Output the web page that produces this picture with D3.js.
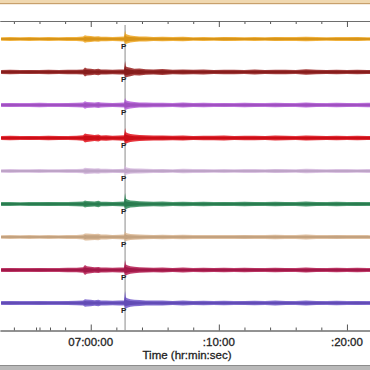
<!DOCTYPE html>
<html>
<head>
<meta charset="utf-8">
<script src="https://cdn.jsdelivr.net/npm/d3@7"></script>
<style>
  html, body { margin: 0; padding: 0; background: #ffffff; overflow: hidden; }
  #plot { width: 370px; height: 370px; }
  #plot svg { display: block; }
  text { font-family: "Liberation Sans", Arial, sans-serif; }
</style>
</head>
<body>
<div id="plot"></div>
<script>
// time window shown (hh:mm:ss), everything else is minutes from 07:00:00
var windowStart = "06:52:55";
var windowEnd = "07:21:48";
var pArrival = 2.68;

var minorTickMinutes = [-6, -4, -2, 2, 4, 6, 8, 12, 14, 16, 18];
var majorTickMinutes = [0, 10, 20];
var majorTickLabels = ["07:00:00", ":10:00", ":20:00"];
var markerTickMinutes = [-4.27, -3.18];
var axisTitle = "Time (hr:min:sec)";

var traceNames = ["tr1", "tr2", "tr3", "tr4", "tr5", "tr6", "tr7", "tr8", "tr9"];
var traceColors = ["#efa51c", "#96201f", "#b25ad6", "#e2101a", "#d3b6dd",
                   "#2e8a58", "#d9b48e", "#b41b50", "#6d55c9"];

// envelope sample times (minutes from 07:00:00)
var envMinutes = [-7.0, -6.3, -5.5, -4.8, -4.0, -3.3, -2.5, -1.8, -1.1, -0.6,
                  -0.45, -0.3, 0.0, 0.3, 0.6, 0.8, 1.2, 1.7, 2.2, 2.6,
                  2.68, 2.75, 2.9, 3.1, 3.4, 3.8, 4.3, 4.9, 5.6, 6.4,
                  7.2, 8.0, 8.8, 9.6, 10.4, 11.2, 12.0, 12.8, 13.6, 14.4,
                  15.2, 16.0, 16.8, 17.6, 18.4, 19.2, 20.0, 20.8, 21.6, 22.4];

// half-width of each trace envelope (amplitude units) at envMinutes
var amp1 = [1.8,2.0,1.7,1.9,1.8,2.0,1.8,1.9,2.0,2.4,3.8,3.2,3.0,2.6,2.8,2.2,2.3,2.0,2.2,2.4,4.5,5.0,4.2,3.6,3.0,2.6,2.4,2.1,2.3,1.9,2.2,1.8,2.0,1.8,2.1,1.9,1.8,2.0,1.8,2.1,2.0,1.9,2.2,1.9,1.8,2.0,1.9,2.1,1.8,1.9];
var amp2 = [2.0,2.2,1.9,2.1,2.0,2.3,2.0,2.2,2.3,2.6,4.5,3.6,3.2,2.8,3.2,2.6,2.5,2.2,2.4,2.6,5.0,5.5,4.8,4.2,3.2,3.6,2.8,2.6,3.0,2.3,2.6,2.2,2.4,2.1,2.3,2.2,2.0,2.4,2.1,2.3,2.2,2.0,2.8,2.2,2.1,2.3,2.0,2.2,2.1,2.0];
var amp3 = [2.0,2.1,1.9,2.0,2.2,2.0,1.9,2.1,2.2,2.5,3.8,3.0,2.8,2.5,3.0,2.4,2.3,2.1,2.3,2.5,4.5,4.8,4.0,3.4,3.0,2.6,2.5,2.2,2.3,2.0,2.6,2.1,2.2,2.0,2.1,2.0,2.2,2.1,2.0,2.3,2.1,2.0,2.6,2.1,2.0,2.2,2.1,2.0,2.2,2.0];
var amp4 = [2.0,2.2,2.0,2.1,2.0,2.2,2.1,2.0,2.3,2.8,4.5,4.0,3.6,3.0,3.5,2.6,2.7,2.3,2.5,2.7,5.5,5.8,4.8,4.0,3.4,3.0,2.7,2.5,2.6,2.2,2.5,2.1,2.3,2.2,2.4,2.1,2.2,2.3,2.1,2.4,2.2,2.0,2.5,2.2,2.1,2.3,2.0,2.2,2.1,2.0];
var amp5 = [1.8,1.9,1.7,1.8,1.9,1.8,1.7,1.9,2.0,2.3,3.2,3.0,2.8,2.6,2.8,2.2,2.2,2.0,2.1,2.3,3.5,3.8,3.2,2.8,2.6,2.4,2.2,2.0,2.1,1.8,2.2,1.9,2.0,1.8,1.9,1.8,2.0,1.9,1.8,2.1,1.9,1.8,2.3,1.9,1.8,2.0,1.9,1.8,2.0,1.8];
var amp6 = [1.9,2.0,1.8,2.0,1.9,2.1,1.9,2.0,2.2,2.5,3.6,3.0,2.7,2.5,3.2,2.3,2.3,2.1,2.3,2.5,4.8,5.2,4.2,3.6,3.2,2.8,2.5,2.3,2.4,2.0,2.3,2.0,2.2,2.0,2.1,2.0,2.2,2.1,2.0,2.2,2.1,2.0,2.4,2.1,2.0,2.2,2.0,2.1,2.0,1.9];
var amp7 = [1.8,1.9,1.8,1.9,1.8,2.0,1.8,1.9,2.0,2.4,3.6,3.4,3.2,3.0,3.2,2.4,2.4,2.1,2.3,2.5,3.8,4.0,3.4,3.0,2.8,2.5,2.3,2.1,2.2,1.9,2.2,1.9,2.0,1.9,2.0,1.9,2.1,2.0,1.9,2.2,2.0,1.9,2.4,2.0,1.9,2.1,1.9,2.0,1.9,1.8];
var amp8 = [2.0,2.1,1.9,2.0,2.1,2.0,1.9,2.2,2.3,2.8,5.0,3.8,3.2,2.8,3.0,2.5,2.4,2.2,2.4,2.6,5.0,5.4,4.6,3.8,3.2,2.8,2.6,2.3,2.5,2.1,2.4,2.0,2.3,2.1,2.2,2.0,2.2,2.1,2.0,2.3,2.1,2.0,2.5,2.1,2.0,2.3,2.0,2.2,2.0,1.9];
var amp9 = [2.0,2.1,1.9,2.0,2.1,2.0,2.0,2.1,2.2,2.6,3.8,3.4,3.2,2.8,3.2,2.5,2.4,2.2,2.4,2.6,5.0,5.5,4.6,3.8,3.2,2.9,2.6,2.4,2.5,2.1,2.4,2.1,2.2,2.0,2.2,2.0,2.1,2.2,2.0,2.4,2.1,2.0,2.5,2.1,2.0,2.2,2.0,2.1,2.0,2.0];
var traceAmps = [amp1, amp2, amp3, amp4, amp5, amp6, amp7, amp8, amp9];

// upward peak of the first P swing on each trace
var pPeaks = [8.5, 11, 7, 10, 6, 11, 6, 10, 12];

function SeismoPlot(target){
    this.WIDTH = 370;
    this.HEIGHT = 370;
    this.TOPAXIS = 21;
    this.BOTTOMAXIS = 330.5;

    this.container = d3.select(target);
    this.svg = null;
    this.xscale = null;
    this.rowscale = null;
    this.day = "2000-01-01T";

    this.createPlot();
}

SeismoPlot.prototype.toDate = function(minutes){
    var d = new Date(this.day + "07:00:00");
    return new Date(d.getTime() + minutes * 60000);
};

SeismoPlot.prototype.createPlot = function(){
    this.svg = this.container.append("svg")
        .attr("width", this.WIDTH)
        .attr("height", this.HEIGHT);

    this.xscale = d3.scaleTime()
        .domain([new Date(this.day + windowStart), new Date(this.day + windowEnd)])
        .range([0, this.WIDTH]);

    this.rowscale = d3.scalePoint()
        .domain(traceNames)
        .range([39, 303]);

    this.drawFrame();
    this.drawAxes();
    this.drawPickLine();
    this.drawTraces();
};

SeismoPlot.prototype.drawFrame = function(){
    // window borders cut into the screenshot
    this.svg.append("rect").attr("x", 0).attr("y", 0)
        .attr("width", this.WIDTH).attr("height", 3).attr("fill", "#f0d8b0");
    this.svg.append("rect").attr("x", 0).attr("y", 3)
        .attr("width", this.WIDTH).attr("height", 1.2).attr("fill", "#c8a06c");
    this.svg.append("rect").attr("x", 0).attr("y", 365)
        .attr("width", this.WIDTH).attr("height", 1.2).attr("fill", "#8c8c8c");
    this.svg.append("rect").attr("x", 0).attr("y", 366)
        .attr("width", this.WIDTH).attr("height", 4).attr("fill", "#b9b9b9");
};

SeismoPlot.prototype.drawAxes = function(){
    var self = this;
    var minorDates = minorTickMinutes.map(function(m){ return self.toDate(m); });
    var majorDates = majorTickMinutes.map(function(m){ return self.toDate(m); });
    var markerDates = markerTickMinutes.map(function(m){ return self.toDate(m); });

    function styleAxis(g){
        g.select(".domain").attr("stroke", "#6e6e6e");
        g.selectAll(".tick line").attr("stroke", "#555");
        g.selectAll(".tick text").remove();
    }

    // top axis, ticks hanging down
    this.svg.append("g").attr("transform", "translate(0," + this.TOPAXIS + ")")
        .call(d3.axisBottom(this.xscale).tickValues(minorDates).tickSize(3).tickSizeOuter(0))
        .call(styleAxis);
    this.svg.append("g").attr("transform", "translate(0," + this.TOPAXIS + ")")
        .call(d3.axisBottom(this.xscale).tickValues(majorDates).tickSize(6).tickSizeOuter(0))
        .call(styleAxis);

    // bottom axis, ticks pointing up
    this.svg.append("g").attr("transform", "translate(0," + this.BOTTOMAXIS + ")")
        .call(d3.axisTop(this.xscale).tickValues(minorDates.concat(markerDates)).tickSize(3).tickSizeOuter(0))
        .call(styleAxis);
    this.svg.append("g").attr("transform", "translate(0," + this.BOTTOMAXIS + ")")
        .call(d3.axisTop(this.xscale).tickValues(majorDates).tickSize(6).tickSizeOuter(0))
        .call(styleAxis);

    this.svg.selectAll("text.ticklabel")
        .data(majorDates)
        .enter().append("text")
        .attr("class", "ticklabel")
        .attr("x", function(d){ return self.xscale(d); })
        .attr("y", 345.5)
        .attr("text-anchor", "middle")
        .attr("font-size", "11.5px")
        .attr("fill", "#1e1e1e")
        .attr("stroke", "#1e1e1e")
        .attr("stroke-width", 0.3)
        .text(function(d, i){ return majorTickLabels[i]; });

    this.svg.append("text")
        .attr("x", 187).attr("y", 358.5)
        .attr("text-anchor", "middle")
        .attr("font-size", "11.5px")
        .attr("fill", "#1e1e1e")
        .attr("stroke", "#1e1e1e")
        .attr("stroke-width", 0.3)
        .text(axisTitle);
};

SeismoPlot.prototype.drawPickLine = function(){
    var px = this.xscale(this.toDate(pArrival));
    this.svg.append("line")
        .attr("x1", px).attr("x2", px)
        .attr("y1", this.TOPAXIS + 4).attr("y2", this.BOTTOMAXIS)
        .attr("stroke", "#8a8a8a")
        .attr("stroke-width", 1);
};

SeismoPlot.prototype.drawTraces = function(){
    var self = this;
    var pIndex = envMinutes.indexOf(pArrival);

    traceNames.forEach(function(name, ti){
        var base = self.rowscale(name);
        var yscale = d3.scaleLinear().domain([-16, 16]).range([base + 16, base - 16]);
        var amps = traceAmps[ti];
        var pts = envMinutes.map(function(m, i){
            return {t: self.toDate(m), lo: -amps[i], hi: (i === pIndex ? pPeaks[ti] : amps[i])};
        });

        var area = d3.area()
            .x(function(d){ return self.xscale(d.t); })
            .y0(function(d){ return yscale(d.lo); })
            .y1(function(d){ return yscale(d.hi); });
        var core = d3.area()
            .x(function(d){ return self.xscale(d.t); })
            .y0(function(d){ return yscale(d.lo * 0.55); })
            .y1(function(d){ return yscale(d.hi * 0.55); });

        var g = self.svg.append("g").attr("class", "trace");
        g.append("path").datum(pts)
            .attr("d", area)
            .attr("fill", traceColors[ti])
            .attr("fill-opacity", 0.85);
        g.append("path").datum(pts)
            .attr("d", core)
            .attr("fill", d3.color(traceColors[ti]).darker(0.3));

        g.append("text")
            .attr("x", self.xscale(self.toDate(pArrival)) - 1.5)
            .attr("y", base + 10)
            .attr("text-anchor", "middle")
            .attr("font-size", "8px")
            .attr("font-weight", "bold")
            .attr("fill", "#222")
            .text("P");
    });
};

var seismoplot = new SeismoPlot("#plot");
</script>
</body>
</html>
